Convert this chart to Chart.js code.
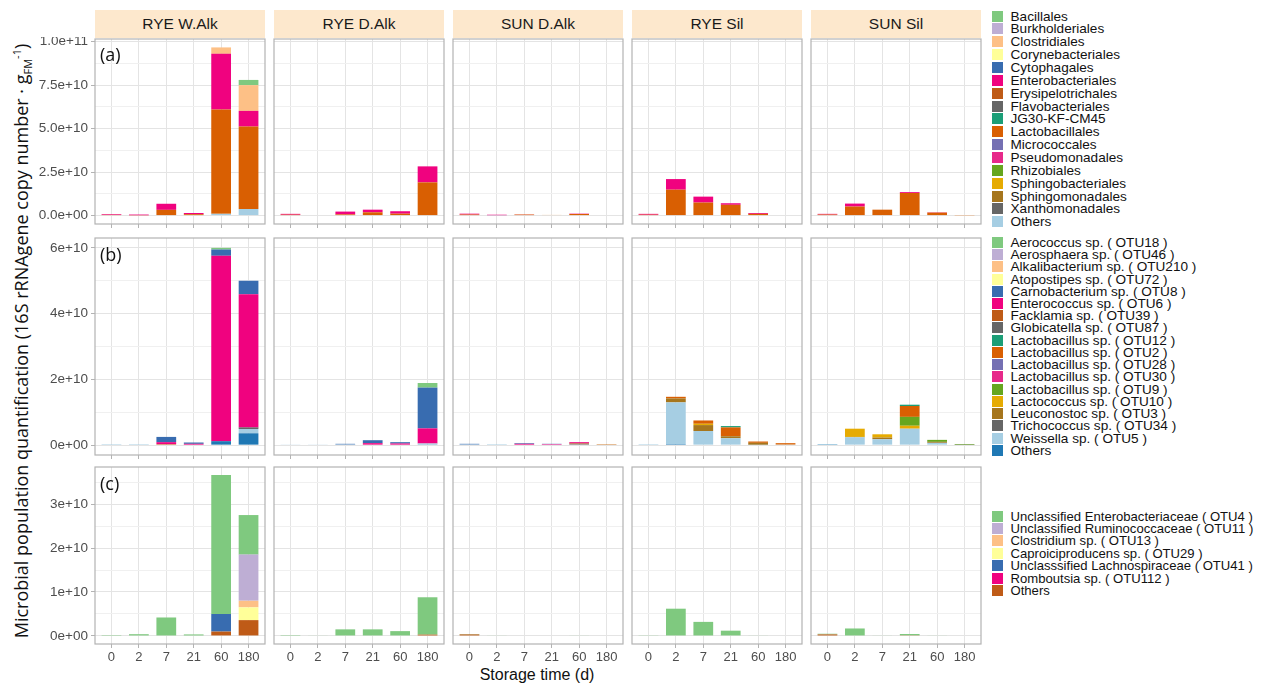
<!DOCTYPE html>
<html>
<head>
<meta charset="utf-8">
<script src="https://cdn.jsdelivr.net/npm/chart.js@4.4.0/dist/chart.umd.min.js"></script>
<style>
  body { margin: 0; background: #fff; width: 1261px; height: 685px; position: relative; overflow: hidden;
         font-family: "Liberation Sans", Arial, sans-serif; }
  .strip { position: absolute; top: 10px; height: 28px; line-height: 28px; background: #FDE8CD;
           color: #1a1a1a; font-size: 15.5px; text-align: center; }
  .tag { position: absolute; left: 100px; font-family: "Open Sans", sans-serif; font-size: 18px;
         line-height: 24px; color: #111; }
  .legend { position: absolute; left: 992px; color: #111; }
  .legend .item { display: flex; align-items: center; white-space: nowrap; }
  .legend .sw { width: 11px; height: 11px; margin-right: 7.5px; flex: none; }
  #ytitle { position: absolute; left: 22px; top: 341px; white-space: nowrap; font-family: "Open Sans", sans-serif;
            font-size: 18px; color: #111; transform: translate(-50%, -50%) rotate(-90deg); }
  #ytitle sub, #ytitle sup { font-size: 11px; }
  #xtitle { position: absolute; left: 537px; top: 675px; transform: translate(-50%, -50%); font-size: 16px; color: #111; white-space: nowrap; }
</style>
</head>
<body>
<div id="ytitle">Microbial population quantification (16S rRNAgene copy number · g<sub>FM</sub><sup>-1</sup>)</div>
<div id="xtitle">Storage time (d)</div>
<script>
const times = ['0', '2', '7', '21', '60', '180'];
const facets = ['RYE W.Alk', 'RYE D.Alk', 'SUN D.Alk', 'RYE Sil', 'SUN Sil'];

// (a) orders
const ordersA = ['Bacillales', 'Burkholderiales', 'Clostridiales', 'Corynebacteriales', 'Cytophagales',
  'Enterobacteriales', 'Erysipelotrichales', 'Flavobacteriales', 'JG30-KF-CM45', 'Lactobacillales',
  'Micrococcales', 'Pseudomonadales', 'Rhizobiales', 'Sphingobacteriales', 'Sphingomonadales',
  'Xanthomonadales', 'Others'];
const colorsA = ['#7FC97F', '#BEAED4', '#FDC086', '#FFFF99', '#386CB0', '#F0027F', '#BF5B17', '#666666',
  '#1B9E77', '#D95F02', '#7570B3', '#E7298A', '#66A61E', '#E6AB02', '#A6761D', '#666666', '#A6CEE3'];

const a_RYE_WAlk = {
  'Bacillales':        [0, 0, 0, 0, 0, 3.0e9],
  'Clostridiales':     [0, 0, 0, 0, 3.7e9, 1.48e10],
  'Enterobacteriales': [4e8, 4e8, 3.5e9, 7e8, 3.2e10, 9.0e9],
  'Lactobacillales':   [4e8, 2e8, 3.3e9, 8e8, 6.0e10, 4.74e10],
  'Others':            [0, 0, 0, 0, 1.0e9, 3.8e9]
};
const a_RYE_DAlk = {
  'Enterobacteriales': [5e8, 3e8, 1.6e9, 1.5e9, 1.4e9, 9.2e9],
  'Lactobacillales':   [5e8, 0, 7e8, 1.9e9, 1.1e9, 1.91e10]
};
const a_SUN_DAlk = {
  'Clostridiales':     [0, 0, 0, 1e8, 0, 0],
  'Enterobacteriales': [5e8, 3e8, 1e8, 0, 2e8, 0],
  'Lactobacillales':   [6e8, 0, 6e8, 3e8, 9e8, 0],
  'Others':            [0, 2e8, 0, 0, 0, 0]
};
const a_RYE_Sil = {
  'Enterobacteriales': [5e8, 6.1e9, 3.4e9, 9e8, 5e8, 0],
  'Lactobacillales':   [5e8, 1.49e10, 7.5e9, 6.2e9, 1.0e9, 3e8]
};
const a_SUN_Sil = {
  'Clostridiales':     [0, 0, 0, 0, 0, 1e8],
  'Enterobacteriales': [4e8, 1.7e9, 0, 5e8, 2e8, 0],
  'Lactobacillales':   [6e8, 5.2e9, 3.4e9, 1.3e10, 1.7e9, 2e8]
};

// (b) species
const speciesB = ['Aerococcus sp. ( OTU18 )', 'Aerosphaera sp. ( OTU46 )', 'Alkalibacterium sp. ( OTU210 )',
  'Atopostipes sp. ( OTU72 )', 'Carnobacterium sp. ( OTU8 )', 'Enterococcus sp. ( OTU6 )',
  'Facklamia sp. ( OTU39 )', 'Globicatella sp. ( OTU87 )', 'Lactobacillus sp. ( OTU12 )',
  'Lactobacillus sp. ( OTU2 )', 'Lactobacillus sp. ( OTU28 )', 'Lactobacillus sp. ( OTU30 )',
  'Lactobacillus sp. ( OTU9 )', 'Lactococcus sp. ( OTU10 )', 'Leuconostoc sp. ( OTU3 )',
  'Trichococcus sp. ( OTU34 )', 'Weissella sp. ( OTU5 )', 'Others'];
const colorsB = ['#7FC97F', '#BEAED4', '#FDC086', '#FFFF99', '#386CB0', '#F0027F', '#BF5B17', '#666666',
  '#1B9E77', '#D95F02', '#7570B3', '#E7298A', '#66A61E', '#E6AB02', '#A6761D', '#666666', '#A6CEE3', '#1F78B4'];

const b_RYE_WAlk = {
  'Aerococcus sp. ( OTU18 )':     [0, 0, 0, 0, 5e8, 0],
  'Carnobacterium sp. ( OTU8 )':  [0, 0, 1.6e9, 4e8, 1.9e9, 4.1e9],
  'Enterococcus sp. ( OTU6 )':    [0, 0, 6e8, 4e8, 5.64e10, 4.05e10],
  'Facklamia sp. ( OTU39 )':      [0, 0, 3e8, 0, 0, 0],
  'Globicatella sp. ( OTU87 )':   [0, 0, 0, 0, 0, 5e8],
  'Weissella sp. ( OTU5 )':       [3e8, 3e8, 0, 0, 0, 1.3e9],
  'Others':                       [0, 0, 0, 0, 1.2e9, 3.6e9]
};
const b_RYE_DAlk = {
  'Aerococcus sp. ( OTU18 )':     [0, 0, 0, 0, 0, 1.4e9],
  'Carnobacterium sp. ( OTU8 )':  [0, 0, 2e8, 9e8, 4e8, 1.24e10],
  'Enterococcus sp. ( OTU6 )':    [0, 0, 0, 6e8, 5e8, 4.6e9],
  'Weissella sp. ( OTU5 )':       [2e8, 2e8, 2e8, 0, 0, 3e8],
  'Others':                       [0, 0, 0, 0, 0, 2e8]
};
const b_SUN_DAlk = {
  'Carnobacterium sp. ( OTU8 )':  [2e8, 0, 2e8, 1e8, 0, 0],
  'Enterococcus sp. ( OTU6 )':    [0, 0, 4e8, 3e8, 4e8, 0],
  'Lactobacillus sp. ( OTU2 )':   [0, 0, 0, 0, 0, 1e8],
  'Leuconostoc sp. ( OTU3 )':     [0, 0, 0, 0, 2e8, 2e8],
  'Trichococcus sp. ( OTU34 )':   [0, 0, 0, 0, 3e8, 0],
  'Weissella sp. ( OTU5 )':       [2e8, 3e8, 0, 0, 0, 0]
};
const b_RYE_Sil = {
  'Lactobacillus sp. ( OTU12 )':  [0, 0, 0, 4e8, 0, 0],
  'Lactobacillus sp. ( OTU2 )':   [0, 5e8, 1.0e9, 2.7e9, 4e8, 4e8],
  'Lactococcus sp. ( OTU10 )':    [0, 0, 4e8, 0, 0, 0],
  'Leuconostoc sp. ( OTU3 )':     [0, 1.2e9, 1.8e9, 6e8, 6e8, 2e8],
  'Weissella sp. ( OTU5 )':       [3e8, 1.27e10, 4.3e9, 2.1e9, 1e8, 0],
  'Others':                       [0, 3e8, 0, 0, 0, 0]
};
const b_SUN_Sil = {
  'Lactobacillus sp. ( OTU12 )':  [0, 0, 0, 4e8, 0, 0],
  'Lactobacillus sp. ( OTU2 )':   [0, 0, 0, 3.3e9, 0, 0],
  'Lactobacillus sp. ( OTU9 )':   [0, 0, 0, 2.7e9, 6e8, 2e8],
  'Lactococcus sp. ( OTU10 )':    [0, 2.5e9, 1.0e9, 9e8, 0, 0],
  'Leuconostoc sp. ( OTU3 )':     [0, 1e8, 5e8, 0, 3e8, 0],
  'Trichococcus sp. ( OTU34 )':   [0, 0, 0, 0, 0, 1e8],
  'Weissella sp. ( OTU5 )':       [2e8, 2.4e9, 1.8e9, 5.0e9, 7e8, 0],
  'Others':                       [1e8, 0, 0, 0, 0, 0]
};

// (c) strict anaerobes
const otusC = ['Unclassified Enterobacteriaceae ( OTU4 )', 'Unclassified Ruminococcaceae ( OTU11 )',
  'Clostridium sp. ( OTU13 )', 'Caproiciproducens sp. ( OTU29 )', 'Unclasssified Lachnospiraceae ( OTU41 )',
  'Romboutsia sp. ( OTU112 )', 'Others'];
const colorsC = ['#7FC97F', '#BEAED4', '#FDC086', '#FFFF99', '#386CB0', '#F0027F', '#BF5B17'];

const c_RYE_WAlk = {
  'Unclassified Enterobacteriaceae ( OTU4 )': [2e8, 4e8, 4.2e9, 3.5e8, 3.16e10, 9.0e9],
  'Unclassified Ruminococcaceae ( OTU11 )':   [0, 0, 0, 0, 0, 1.05e10],
  'Clostridium sp. ( OTU13 )':                [0, 0, 0, 0, 0, 1.5e9],
  'Caproiciproducens sp. ( OTU29 )':          [0, 0, 0, 0, 0, 2.9e9],
  'Unclasssified Lachnospiraceae ( OTU41 )':  [0, 0, 0, 0, 4.0e9, 0],
  'Others':                                   [0, 0, 0, 0, 1.0e9, 3.6e9]
};
const c_RYE_DAlk = {
  'Unclassified Enterobacteriaceae ( OTU4 )': [2e8, 1e8, 1.5e9, 1.5e9, 1.1e9, 8.5e9],
  'Others':                                   [0, 0, 0, 0, 0, 3e8]
};
const c_SUN_DAlk = {
  'Unclassified Enterobacteriaceae ( OTU4 )': [1e8, 1e8, 0, 0, 1e8, 0],
  'Others':                                   [3.5e8, 0, 0, 0, 0, 0]
};
const c_RYE_Sil = {
  'Unclassified Enterobacteriaceae ( OTU4 )': [1.5e8, 6.2e9, 3.2e9, 1.2e9, 1e8, 0]
};
const c_SUN_Sil = {
  'Unclassified Enterobacteriaceae ( OTU4 )': [1.5e8, 1.7e9, 1e8, 3e8, 1e8, 0],
  'Others':                                   [3.5e8, 0, 0, 1.5e8, 0, 0]
};

const yTicksA = [0, 2.5e10, 5e10, 7.5e10, 1e11];
const yLabelsA = ['0.0e+00', '2.5e+10', '5.0e+10', '7.5e+10', '1.0e+11'];
const yTicksB = [0, 2e10, 4e10, 6e10];
const yLabelsB = ['0e+00', '2e+10', '4e+10', '6e+10'];
const yTicksC = [0, 1e10, 2e10, 3e10];
const yLabelsC = ['0e+00', '1e+10', '2e+10', '3e+10'];

// ---- layout ----
const COL_LEFT = [95, 274, 453, 632, 811];
const PANEL_W = 170;
const GRID_MAJOR = '#E4E4E4';
const GRID_MINOR = '#F0F0F0';
const TICK_COLOR = '#B3B3B3';
const FONT = '"Liberation Sans", Arial, sans-serif';

const rows = [
  { top: 39, h: 185, names: ordersA, colors: colorsA, ticks: yTicksA, labels: yLabelsA, tag: '(a)', tagTop: 42,
    facetData: [a_RYE_WAlk, a_RYE_DAlk, a_SUN_DAlk, a_RYE_Sil, a_SUN_Sil],
    legendTop: 9.6, legendStep: 12.86, legendFont: 13.6 },
  { top: 238, h: 217, names: speciesB, colors: colorsB, ticks: yTicksB, labels: yLabelsB, tag: '(b)', tagTop: 242,
    facetData: [b_RYE_WAlk, b_RYE_DAlk, b_SUN_DAlk, b_RYE_Sil, b_SUN_Sil],
    legendTop: 236.2, legendStep: 12.24, legendFont: 13.6 },
  { top: 467, h: 177, names: otusC, colors: colorsC, ticks: yTicksC, labels: yLabelsC, tag: '(c)', tagTop: 471,
    facetData: [c_RYE_WAlk, c_RYE_DAlk, c_SUN_DAlk, c_RYE_Sil, c_SUN_Sil],
    legendTop: 509.8, legendStep: 12.45, legendFont: 13.1 }
];

const panelBorder = {
  id: 'panelBorder',
  afterDraw(chart) {
    const a = chart.chartArea, c = chart.ctx;
    c.save();
    c.strokeStyle = '#B3B3B3';
    c.lineWidth = 1.2;
    c.strokeRect(a.left, a.top, a.right - a.left, a.bottom - a.top);
    c.restore();
  }
};

function stackMax(facetData) {
  let m = 0;
  facetData.forEach(d => times.forEach((t, i) => {
    let s = 0;
    Object.values(d).forEach(v => { s += v[i]; });
    m = Math.max(m, s);
  }));
  return m;
}

function addDiv(cls, text, style) {
  const d = document.createElement('div');
  d.className = cls;
  d.textContent = text;
  Object.assign(d.style, style);
  document.body.appendChild(d);
  return d;
}

// the scales must not add label overflow padding, so the chart area equals the panel box
function noPad(s) {
  s.paddingTop = 0; s.paddingBottom = 0; s.paddingLeft = 0; s.paddingRight = 0;
}

// strips
facets.forEach((f, c) => addDiv('strip', f, { left: COL_LEFT[c] + 'px', width: PANEL_W + 'px' }));

rows.forEach((row, r) => {
  const dataMax = stackMax(row.facetData);
  const yMin = -0.05 * dataMax, yMax = 1.05 * dataMax;
  const step = row.ticks[1] - row.ticks[0];
  const allTicks = [];
  row.ticks.forEach(t => {
    allTicks.push(t);
    if (t + step / 2 <= yMax) allTicks.push(t + step / 2);
  });
  const isMajor = v => row.ticks.includes(v);

  row.facetData.forEach((data, c) => {
    const first = c === 0, last = r === rows.length - 1;
    const yW = first ? 90 : 0;
    const padL = first ? 0 : 2, padT = 2, padR = 2;
    const xH = last ? 30 : 6;
    const w = padL + yW + PANEL_W + padR, h = padT + row.h + xH;

    const cv = document.createElement('canvas');
    cv.width = w; cv.height = h;
    Object.assign(cv.style, { position: 'absolute', left: (COL_LEFT[c] - yW - padL) + 'px',
      top: (row.top - padT) + 'px', width: w + 'px', height: h + 'px' });
    document.body.appendChild(cv);

    const datasets = row.names.map((n, k) => ({
      label: n,
      backgroundColor: row.colors[k],
      borderWidth: 0,
      data: times.map((t, i) => ({ x: i, y: data[n] ? data[n][i] : 0 }))
    })).reverse();

    new Chart(cv.getContext('2d'), {
      type: 'bar',
      data: { datasets },
      plugins: [panelBorder],
      options: {
        responsive: false,
        animation: false,
        events: [],
        categoryPercentage: 1,
        barPercentage: 0.72,
        layout: { padding: { left: padL, top: padT, right: padR, bottom: 0 } },
        plugins: { legend: { display: false }, tooltip: { enabled: false } },
        scales: {
          x: {
            type: 'linear', stacked: true, min: -0.6, max: 5.6, offset: false, bounds: 'data',
            afterBuildTicks: s => { s.ticks = times.map((t, i) => ({ value: i })); },
            afterFit: s => { s.height = xH; noPad(s); },
            border: { display: false },
            grid: { offset: false, color: GRID_MAJOR, lineWidth: 1, drawTicks: true, tickLength: 4,
                    tickColor: TICK_COLOR, tickWidth: 1 },
            ticks: { display: last, autoSkip: false, maxRotation: 0, padding: 2, color: '#4D4D4D',
                     font: { size: 13, family: FONT }, callback: v => times[v] }
          },
          y: {
            type: 'linear', stacked: true, min: yMin, max: yMax, bounds: 'data',
            afterBuildTicks: s => { s.ticks = allTicks.map(v => ({ value: v })); },
            afterFit: s => { s.width = yW; noPad(s); },
            border: { display: false },
            grid: {
              color: ctx => isMajor(ctx.tick.value) ? GRID_MAJOR : GRID_MINOR,
              lineWidth: 1,
              drawTicks: first, tickLength: 4, tickWidth: 1,
              tickColor: ctx => isMajor(ctx.tick.value) ? TICK_COLOR : 'rgba(0,0,0,0)'
            },
            ticks: { display: first, autoSkip: false, padding: 3, color: '#4D4D4D',
                     font: { size: 13.5, family: FONT },
                     callback: v => { const k = row.ticks.indexOf(v); return k >= 0 ? row.labels[k] : ''; } }
          }
        }
      }
    });
  });

  addDiv('tag', row.tag, { top: row.tagTop + 'px' });

  const lg = document.createElement('div');
  lg.className = 'legend';
  lg.style.top = row.legendTop + 'px';
  lg.style.fontSize = row.legendFont + 'px';
  row.names.forEach((n, k) => {
    const it = document.createElement('div');
    it.className = 'item';
    it.style.height = row.legendStep + 'px';
    const sw = document.createElement('span');
    sw.className = 'sw';
    sw.style.background = row.colors[k];
    const tx = document.createElement('span');
    tx.textContent = n;
    it.appendChild(sw); it.appendChild(tx);
    lg.appendChild(it);
  });
  document.body.appendChild(lg);
});
</script>
</body>
</html>
